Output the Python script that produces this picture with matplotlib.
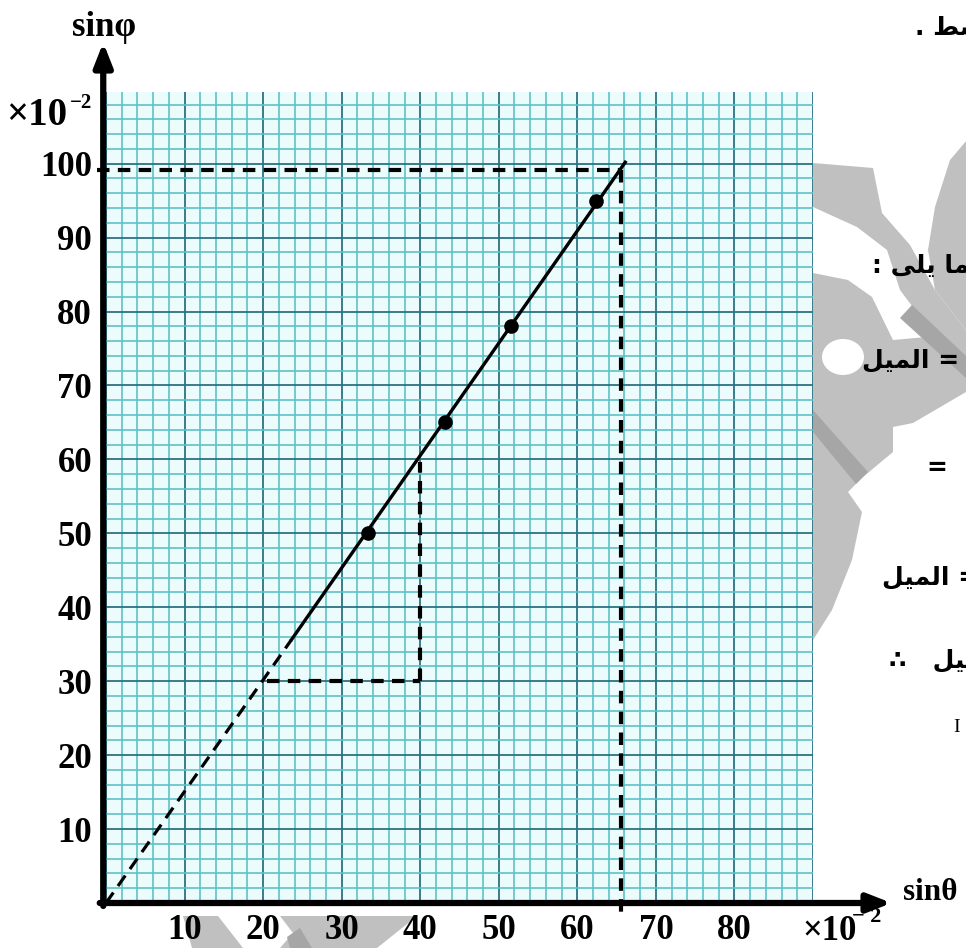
import matplotlib
matplotlib.use("Agg")
import matplotlib.pyplot as plt
from matplotlib.patches import Polygon, Ellipse

# measured points (x10^-2)
sin_theta = [33.3, 43.1, 51.5, 62.4]
sin_phi = [50.1, 65.0, 78.0, 95.0]

# best-fit line: dashed extrapolation to the origin, then solid part
fit_dash_x = [0.0, 23.6]
fit_dash_y = [0.0, 35.6]
fit_x = [23.6, 66.1]
fit_y = [35.6, 100.2]

# read-off guides
read_x = 65.5
read_y = 99.1
tri_x = [20.5, 40.0]
tri_y = [30.0, 59.6]

x_ticks = [10, 20, 30, 40, 50, 60, 70, 80]
y_ticks = [10, 20, 30, 40, 50, 60, 70, 80, 90, 100]

W, H = 966, 948
SERIF = "Liberation Serif"


def fx(x):
    return x / W


def fy(y):
    return 1 - y / H


def px(points):
    return [(fx(a), fy(b)) for a, b in points]


fig = plt.figure(figsize=(W / 100, H / 100), dpi=100)
fig.patch.set_facecolor("white")

# grey watermark behind the page (figure pixels)
grey = "#c0c0c0"
dark = "#a6a6a6"
marks = [
    [(813, 163), (873, 168), (882, 213), (910, 245), (935, 290), (966, 330),
     (966, 372), (930, 330), (900, 290), (887, 250), (857, 227), (813, 207)],
    [(967, 140), (950, 160), (935, 207), (928, 250), (935, 290), (966, 330)],
    [(813, 273), (848, 280), (872, 297), (893, 340), (927, 337), (966, 372),
     (966, 392), (913, 423), (893, 427), (893, 452), (863, 477), (848, 492),
     (862, 512), (852, 560), (832, 610), (813, 640)],
    [(183, 916), (218, 916), (243, 948), (192, 948)],
    [(280, 916), (417, 916), (377, 948), (280, 948), (293, 933)],
]
for m in marks:
    fig.patches.append(Polygon(px(m), closed=True, transform=fig.transFigure,
                               facecolor=grey, edgecolor="none", zorder=0))
stripes = [
    [(900, 318), (912, 305), (966, 356), (966, 378)],
    [(813, 410), (813, 432), (856, 484), (868, 472)],
    [(287, 937), (300, 928), (312, 948), (290, 948)],
]
for s in stripes:
    fig.patches.append(Polygon(px(s), closed=True, transform=fig.transFigure,
                               facecolor=dark, edgecolor="none", zorder=0))
fig.patches.append(Ellipse((fx(843), fy(357)), 42 / W, 36 / H, transform=fig.transFigure,
                           facecolor="white", edgecolor="none", zorder=0))

ax = fig.add_axes([106 / W, (H - 903) / H, 707 / W, 811 / H])
ax.set_zorder(2)
ax.set_xlim(0, 90)
ax.set_ylim(0, 109.7)
ax.set_facecolor("#ecfbfb")

# graph paper
ax.set_xticks(range(0, 91, 10), labels=[""] + [str(v) for v in x_ticks] + [""])
ax.set_yticks(range(0, 101, 10), labels=[""] + [str(v) for v in y_ticks])
ax.set_xticks(range(0, 91, 2), minor=True)
ax.set_yticks(range(0, 109, 2), minor=True)
ax.grid(which="minor", color="#5cc2c8", lw=1.2, zorder=0)
ax.grid(which="major", color="#2c7282", lw=1.3, zorder=0)
ax.set_axisbelow(True)
ax.tick_params(which="both", length=0)
ax.tick_params(axis="x", pad=8)
ax.tick_params(axis="y", pad=10)
for lab in ax.get_xticklabels() + ax.get_yticklabels():
    lab.set_fontfamily(SERIF)
    lab.set_fontweight("bold")
    lab.set_fontsize(25)
for sp in ax.spines.values():
    sp.set_visible(False)

dash = (0, (3, 2))
ax.plot(fit_dash_x, fit_dash_y, color="black", lw=2.3, ls=(0, (4, 2.5)), zorder=3)
ax.plot(fit_x, fit_y, color="black", lw=2.4, zorder=3)
ax.plot(sin_theta, sin_phi, "o", color="black", ms=9.5, zorder=4)

ax.plot([-1.2, read_x], [read_y, read_y], color="black", lw=3, ls=dash, zorder=3, clip_on=False)
ax.plot([read_x, read_x], [read_y, -1.7], color="black", lw=3, ls=dash, zorder=3, clip_on=False)
ax.plot([tri_x[0], tri_x[1]], [tri_y[0], tri_y[0]], color="black", lw=3, ls=dash, zorder=3)
ax.plot([tri_x[1], tri_x[1]], [tri_y[0], tri_y[1]], color="black", lw=3, ls=dash, zorder=3)

# thick axes with arrow heads
arrow = dict(arrowstyle="-|>,head_length=1.4,head_width=0.55", lw=4.5, color="black",
             shrinkA=0, shrinkB=0)
ax.annotate("", xy=(-0.35, 116.4), xytext=(-0.35, -0.4), arrowprops=arrow,
            annotation_clip=False, zorder=6)
ax.annotate("", xy=(100.0, 0.0), xytext=(-0.8, 0.0), arrowprops=arrow,
            annotation_clip=False, zorder=6)

bold = dict(family=SERIF, weight="bold")
fig.text(fx(104), fy(27), "sinφ", fontsize=25, ha="center", va="center", **bold)
fig.text(fx(903), fy(900), "sinθ", fontsize=22.5, ha="left", va="baseline", **bold)
fig.text(fx(6), fy(125), "×10", fontsize=28, ha="left", va="baseline", **bold)
fig.text(fx(70), fy(108), "−2", fontsize=15, ha="left", va="baseline", **bold)
fig.text(fx(802), fy(940), "×10", fontsize=25, ha="left", va="baseline", **bold)
fig.text(fx(852), fy(922), "− 2", fontsize=16, ha="left", va="baseline", **bold)

# page text cut by the right edge (Arabic in presentation forms, visual order)
arab = dict(family="DejaVu Sans", weight="bold", ha="left", va="center", fontsize=18)
fig.text(fx(915), fy(28), ". \ufec2\ufeb4", **arab)
fig.text(fx(872), fy(266), ": \ufef0\ufee0\ufef3 \ufe8e\ufee4", **arab)
fig.text(fx(862), fy(360), "\ufede\ufef4\ufee4\ufedf\ufe8d =", **arab)
fig.text(fx(927), fy(468), "=  \u2014", **arab)
fig.text(fx(882), fy(577), "\ufede\ufef4\ufee4\ufedf\ufe8d =", **arab)
fig.text(fx(889), fy(660), "\u2234   \ufede\ufef4\ufee4", **arab)
fig.text(fx(953), fy(727), "I", fontsize=14, family=SERIF, ha="left", va="center")

fig.savefig("out.png", dpi=100)
